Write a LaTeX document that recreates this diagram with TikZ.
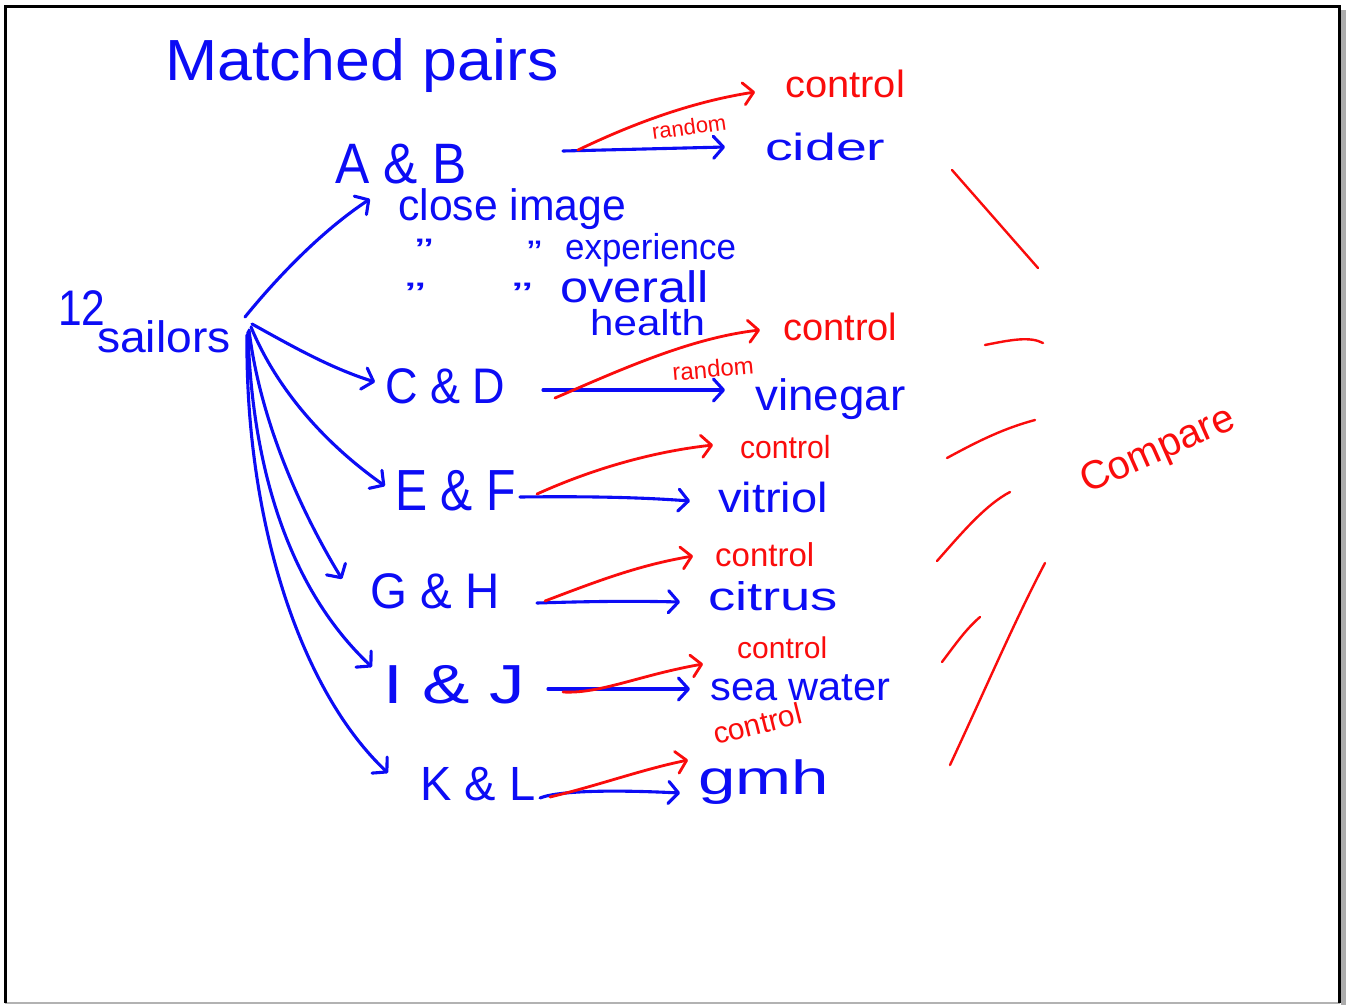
\documentclass[tikz,border=0pt]{standalone}
\usepackage{fontspec}
\setmainfont{Liberation Sans}
\usetikzlibrary{arrows.meta}
\definecolor{hblue}{RGB}{12,12,245}
\definecolor{hred}{RGB}{250,12,12}
\newcommand\fsz[1]{\fontsize{#1}{#1}\selectfont}
\newcommand\hx[2]{\scalebox{#1}[1]{#2}}
\tikzset{
  blu/.style={draw=hblue, line width=3.1pt, line cap=round, line join=round},
  rdl/.style={draw=hred, line width=2.8pt, line cap=round, line join=round},
  arr/.style={-{Straight Barb[length=10pt,width=22pt,line cap=round,line join=round]}},
  bt/.style={text=hblue, inner sep=0pt, anchor=base west},
  rt/.style={text=hred, inner sep=0pt, anchor=base west},
}
\begin{document}
\begin{tikzpicture}[x=1pt,y=-1pt]
\useasboundingbox (0,0) rectangle (1347,1005);
\fill[white] (0,0) rectangle (1347,1005);
% frame
\fill[gray!65] (1341,10) rectangle (1346,1005);
\draw[gray!60, line width=2pt] (5,1003) -- (1340,1003);
\draw[black, line width=3pt] (5,1003) -- (5,6) -- (1339,6) -- (1339,1003);

% blue texts
\node[bt, font=\fsz{58}] (title) at (165,80) {\hx{1.08}{Matched pairs}};
\node[bt, font=\fsz{50}] (twelve) at (58,325) {\hx{0.85}{12}};
\node[bt, font=\fsz{44}] (sail) at (97,352) {\hx{1.05}{sailors}};
\node[bt, font=\fsz{57}] (AB) at (335,183) {\hx{0.9}{A \& B}};
\node[bt, font=\fsz{44}] (close) at (398,220) {\hx{0.97}{close image}};
\node[bt, font=\fsz{34}] (d1) at (415,262) {\hx{1.6}{"}};
\node[bt, font=\fsz{34}] (d2) at (527,264) {\hx{1.3}{"}};
\node[bt, font=\fsz{36}] (exper) at (565,259) {\hx{0.97}{experience}};
\node[bt, font=\fsz{34}] (d3) at (405,306) {\hx{1.8}{"}};
\node[bt, font=\fsz{34}] (d4) at (512,306) {\hx{1.8}{"}};
\node[bt, font=\fsz{44}] (overall) at (560,302) {\hx{1.15}{overall}};
\node[bt, font=\fsz{36}] (health) at (590,335) {\hx{1.17}{health}};
\node[bt, font=\fsz{50}] (CD) at (385,403) {\hx{0.9}{C \& D}};
\node[bt, font=\fsz{58}] (EF) at (395,510) {\hx{0.83}{E \& F}};
\node[bt, font=\fsz{50}] (GH) at (370,608) {\hx{0.95}{G \& H}};
\node[bt, font=\fsz{55}] (IJ) at (383,703) {\hx{1.29}{I \& J}};
\node[bt, font=\fsz{48}] (KL) at (420,800) {\hx{0.98}{K \& L}};
\node[bt, font=\fsz{38}] (cider) at (765,160) {\hx{1.46}{cider}};
\node[bt, font=\fsz{44}] (vinegar) at (755,410) {\hx{1.04}{vinegar}};
\node[bt, font=\fsz{42}] (vitriol) at (718,512) {\hx{1.12}{vitriol}};
\node[bt, font=\fsz{40}] (citrus) at (708,610) {\hx{1.36}{citrus}};
\node[bt, font=\fsz{40}] (sea) at (710,700) {\hx{1.04}{sea water}};
\node[bt, font=\fsz{48}] (gmh) at (698,794) {\hx{1.4}{gmh}};

% red texts
\node[rt, font=\fsz{38}] (c1) at (785,97) {\hx{1.05}{control}};
\node[rt, font=\fsz{38}] (c2) at (783,340) {control};
\node[rt, font=\fsz{32}] (c3) at (740,458) {\hx{0.94}{control}};
\node[rt, font=\fsz{33}] (c4) at (715,566) {control};
\node[rt, font=\fsz{30}] (c5) at (737,658) {control};
\node[rt, font=\fsz{30}, rotate=14] (c6) at (716,745) {control};
\node[rt, font=\fsz{22}, rotate=8] (r1) at (653,140) {random};
\node[rt, font=\fsz{24}, rotate=5] (r2) at (673,381) {random};
\node[rt, font=\fsz{40}, rotate=24] (comp) at (1087,494) {Compare};

% coordinates for connector ends
\coordinate (s1) at (245,317);
\coordinate (s2) at (252,324);
\coordinate (s3) at (251,327);
\coordinate (s4) at (249,330);
\coordinate (s5) at (248,332);
\coordinate (s6) at (247,335);
\coordinate (tAB) at (370,199);
\coordinate (tCD) at (375,382);
\coordinate (tEF) at (385,486);
\coordinate (tGH) at (342,579);
\coordinate (tIJ) at (372,667);
\coordinate (tKL) at (388,773);

% sailors to pairs
\draw[blu, arr] (s1) .. controls (275,280) and (320,232) .. (tAB);
\draw[blu, arr] (s2) .. controls (290,345) and (330,368) .. (tCD);
\draw[blu, arr] (s3) .. controls (275,385) and (320,440) .. (tEF);
\draw[blu, arr] (s4) .. controls (260,420) and (300,510) .. (tGH);
\draw[blu, arr] (s5) .. controls (252,470) and (290,590) .. (tIJ);
\draw[blu, arr] (s6) .. controls (245,520) and (300,690) .. (tKL);

% pair arrows
\coordinate (b1s) at (563,151); \coordinate (b1e) at (725,147);
\coordinate (b2s) at (543,390); \coordinate (b2e) at (725,390);
\coordinate (b3s) at (520,497); \coordinate (b3e) at (690,501);
\coordinate (b4s) at (537,603); \coordinate (b4e) at (680,602);
\coordinate (b5s) at (548,689); \coordinate (b5e) at (690,689);
\coordinate (b6s) at (540,798); \coordinate (b6e) at (680,793);
\draw[blu, arr] (b1s) -- (b1e);
\draw[blu, arr] (b2s) -- (b2e);
\draw[blu, arr] (b3s) .. controls (600,496) and (650,498) .. (b3e);
\draw[blu, arr] (b4s) .. controls (600,601) and (640,601) .. (b4e);
\draw[blu, arr] (b5s) -- (b5e);
\draw[blu, arr] (b6s) .. controls (560,790) and (620,790) .. (b6e);

\coordinate (r1s) at (578,150); \coordinate (r1e) at (755,92);
\coordinate (r2s) at (555,398); \coordinate (r2e) at (760,330);
\coordinate (r3s) at (537,494); \coordinate (r3e) at (713,445);
\coordinate (r4s) at (545,601); \coordinate (r4e) at (693,556);
\coordinate (r5s) at (563,692); \coordinate (r5e) at (703,664);
\coordinate (r6s) at (550,797); \coordinate (r6e) at (688,760);
\draw[rdl, arr] (r1s) .. controls (630,125) and (690,102) .. (r1e);
\draw[rdl, arr] (r2s) .. controls (620,370) and (690,338) .. (r2e);
\draw[rdl, arr] (r3s) .. controls (590,470) and (650,452) .. (r3e);
\draw[rdl, arr] (r4s) .. controls (600,580) and (640,565) .. (r4e);
\draw[rdl, arr] (r5s) .. controls (600,694) and (640,675) .. (r5e);
\draw[rdl, arr] (r6s) .. controls (600,785) and (640,770) .. (r6e);

% compare strokes
\draw[rdl, line width=2.4pt] (952,170) -- (1038,268);
\draw[rdl, line width=2.4pt] (985,345) .. controls (1010,340) and (1030,336) .. (1043,343);
\draw[rdl, line width=2.4pt] (947,458) .. controls (980,440) and (1005,428) .. (1035,420);
\draw[rdl, line width=2.4pt] (937,561) .. controls (960,535) and (985,505) .. (1010,492);
\draw[rdl, line width=2.4pt] (942,662) .. controls (955,645) and (965,630) .. (980,617);
\draw[rdl, line width=2.4pt] (950,765) .. controls (985,690) and (1015,620) .. (1045,563);
\end{tikzpicture}
\end{document}
